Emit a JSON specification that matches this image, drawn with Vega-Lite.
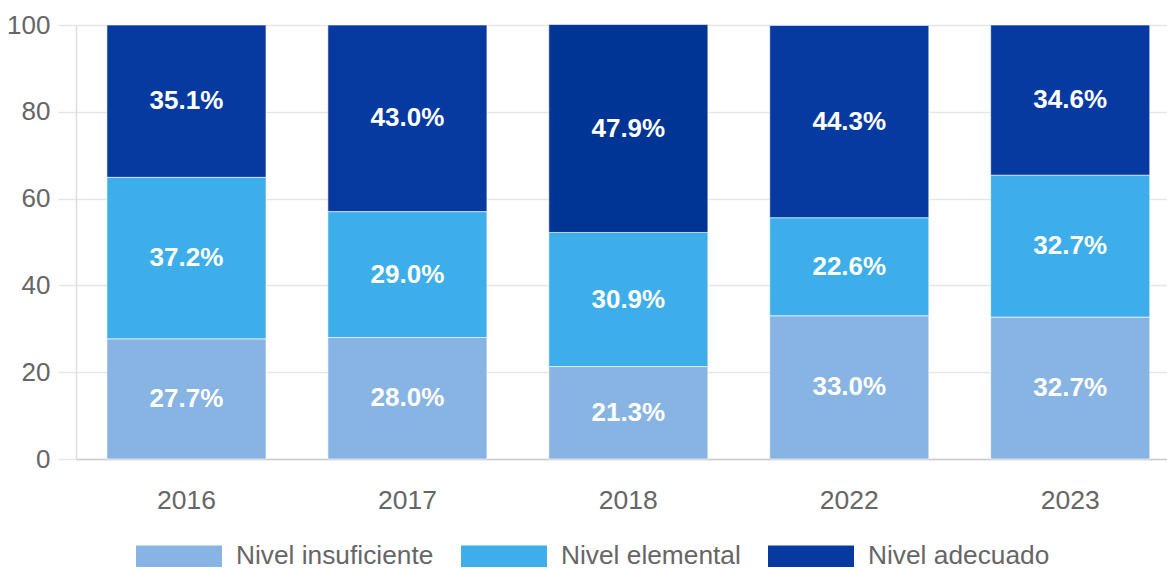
{
  "$schema": "https://vega.github.io/schema/vega-lite/v6.json",
  "width": 1091,
  "height": 434,
  "autosize": {"type": "none"},
  "padding": {"left": 76, "top": 25, "right": 0, "bottom": 110},
  "background": "white",
  "config": {"view": {"stroke": null}},
  "data": {"values": [
    {"year": "2016", "level": "Nivel insuficiente", "rank": 1, "value": 27.7, "label": "27.7%"},
    {"year": "2016", "level": "Nivel elemental", "rank": 2, "value": 37.2, "label": "37.2%"},
    {"year": "2016", "level": "Nivel adecuado", "rank": 3, "value": 35.1, "label": "35.1%"},
    {"year": "2017", "level": "Nivel insuficiente", "rank": 1, "value": 28.0, "label": "28.0%"},
    {"year": "2017", "level": "Nivel elemental", "rank": 2, "value": 29.0, "label": "29.0%"},
    {"year": "2017", "level": "Nivel adecuado", "rank": 3, "value": 43.0, "label": "43.0%"},
    {"year": "2018", "level": "Nivel insuficiente", "rank": 1, "value": 21.3, "label": "21.3%"},
    {"year": "2018", "level": "Nivel elemental", "rank": 2, "value": 30.9, "label": "30.9%"},
    {"year": "2018", "level": "Nivel adecuado", "rank": 3, "value": 47.9, "label": "47.9%"},
    {"year": "2022", "level": "Nivel insuficiente", "rank": 1, "value": 33.0, "label": "33.0%"},
    {"year": "2022", "level": "Nivel elemental", "rank": 2, "value": 22.6, "label": "22.6%"},
    {"year": "2022", "level": "Nivel adecuado", "rank": 3, "value": 44.3, "label": "44.3%"},
    {"year": "2023", "level": "Nivel insuficiente", "rank": 1, "value": 32.7, "label": "32.7%"},
    {"year": "2023", "level": "Nivel elemental", "rank": 2, "value": 32.7, "label": "32.7%"},
    {"year": "2023", "level": "Nivel adecuado", "rank": 3, "value": 34.6, "label": "34.6%"}
  ]},
  "encoding": {
    "x": {
      "field": "year", "type": "nominal", "sort": null,
      "scale": {"paddingInner": 0.28, "paddingOuter": 0.109, "align": 0.642},
      "axis": {"title": null, "labelAngle": 0, "labelFont": "Liberation Sans", "labelFontSize": 26.5, "labelColor": "#666666", "ticks": false, "labelPadding": 28, "domainColor": "#cccccc", "domainWidth": 1.5, "grid": false}
    },
    "order": {"field": "rank", "type": "quantitative"}
  },
  "layer": [
    {
      "mark": {"type": "bar", "stroke": "#ffffff", "strokeWidth": 1, "strokeOpacity": 0.6},
      "encoding": {
        "y": {
          "field": "value", "type": "quantitative", "stack": "zero",
          "scale": {"domain": [0, 100], "nice": false},
          "axis": {"title": null, "values": [0, 20, 40, 60, 80, 100], "tickSize": 18, "tickColor": "#e6e6e6", "tickWidth": 1.5, "labelPadding": 8, "labelFont": "Liberation Sans", "labelFontSize": 26, "labelColor": "#666666", "gridColor": "#e6e6e6", "gridWidth": 1.5, "domainColor": "#dddddd", "domainWidth": 1.5}
        },
        "color": {
          "condition": {"test": "datum.year === '2018' && datum.level === 'Nivel adecuado'", "value": "#003595"},
          "field": "level", "type": "nominal",
          "scale": {"domain": ["Nivel insuficiente", "Nivel elemental", "Nivel adecuado"], "range": ["#88b4e3", "#3daee9", "#063aa1"]},
          "legend": {"title": null, "orient": "none", "legendX": 60, "legendY": 488, "direction": "horizontal", "symbolType": "M-1,-0.25H1V0.25H-1Z", "symbolSize": 7396, "symbolStrokeWidth": 0, "symbolOpacity": 1, "labelFont": "Liberation Sans", "labelFontSize": 26.3, "labelColor": "#666666", "labelOffset": 14, "columnPadding": 27, "labelLimit": 400}
        }
      }
    },
    {
      "mark": {"type": "text", "color": "white", "font": "Liberation Sans", "fontWeight": "bold", "fontSize": 26, "baseline": "middle",
        "dy": {"expr": "(scale('y', 0) - scale('y', datum.value)) / 2"}},
      "encoding": {
        "y": {"field": "value", "type": "quantitative", "stack": "zero"},
        "detail": {"field": "level"},
        "text": {"field": "label"}
      }
    }
  ]
}
